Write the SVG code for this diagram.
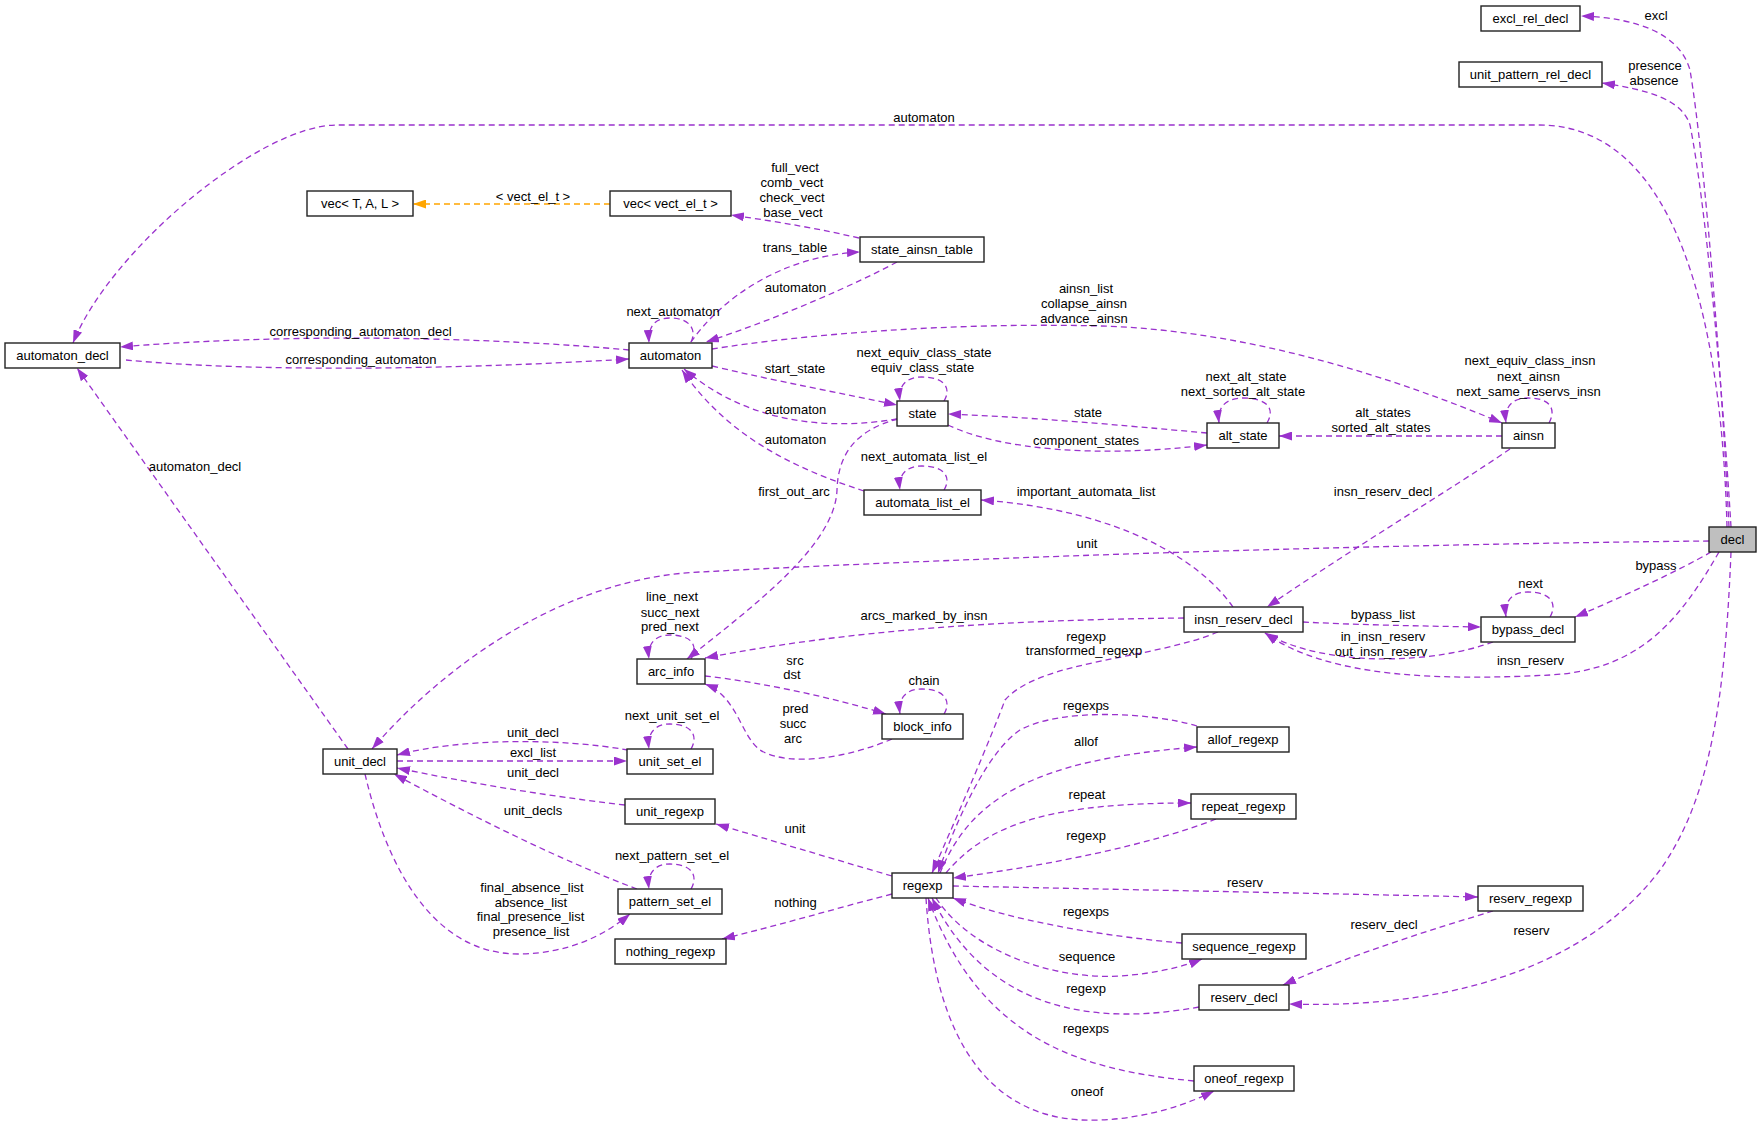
<svg xmlns="http://www.w3.org/2000/svg" width="1763" height="1127" viewBox="0 0 1763 1127">
<style>
.n rect{fill:#fff;stroke:#222;stroke-width:1.4}
.n text,.l text{font-family:"Liberation Sans",Arial,sans-serif;font-size:13px;fill:#000;text-anchor:middle}
.e path{fill:none;stroke:#9a32cd;stroke-width:1.3;stroke-dasharray:6,4;marker-end:url(#ap)}
.e path.o{stroke:#ffa500;marker-end:url(#ao)}
</style>
<defs>
<marker id="ap" viewBox="0 0 13 9" refX="13" refY="4.5" markerWidth="13" markerHeight="9" orient="auto" markerUnits="userSpaceOnUse"><path d="M0,0 L13,4.5 L0,9 z" fill="#9a32cd"/></marker>
<marker id="ao" viewBox="0 0 13 9" refX="13" refY="4.5" markerWidth="13" markerHeight="9" orient="auto" markerUnits="userSpaceOnUse"><path d="M0,0 L13,4.5 L0,9 z" fill="#ffa500"/></marker>
</defs>
<rect width="1763" height="1127" fill="#fff"/>
<g id="edges" class="e">
<path d="M1729,527 C1722,380 1705,160 1690,70 C1680,35 1640,18 1581,16"/>
<path d="M1731,527 C1722,380 1705,200 1690,125 C1682,100 1650,90 1602,83"/>
<path d="M1727,527 C1722,330 1680,125 1539,125 L337,125 C260,125 110,250 73,343"/>
<path class="o" d="M610,204 L413,204"/>
<path d="M859,238 C820,229 780,222 731,215"/>
<path d="M691,342 C720,300 780,256 860,252"/>
<path d="M897,262 C860,282 780,318 706,342"/>
<path d="M691,342 C697,330 690,318 670,318 C655,318 648,326 649,343"/>
<path d="M629,350 C500,338 300,332 120,347"/>
<path d="M126,360 C250,372 450,370 629,359"/>
<path d="M712,349 C800,335 950,322 1100,326 C1250,330 1400,380 1502,423"/>
<path d="M712,366 C780,382 840,393 897,405"/>
<path d="M897,419 C830,430 750,425 684,369"/>
<path d="M864,491 C800,470 730,440 682,370"/>
<path d="M944,401 C952,388 944,377 922,377 C906,377 898,386 900,401"/>
<path d="M898,419 C855,430 838,455 837,490 C835,545 755,605 687,659"/>
<path d="M1207,433 C1150,428 1050,418 948,414"/>
<path d="M948,425 C1000,450 1100,458 1207,445"/>
<path d="M1267,423 C1276,408 1266,398 1243,398 C1226,398 1217,407 1219,423"/>
<path d="M1502,436 L1279,436"/>
<path d="M1549,423 C1557,408 1549,398 1528,398 C1512,398 1504,407 1506,423"/>
<path d="M1510,449 C1450,490 1350,550 1267,607"/>
<path d="M1709,541 C1400,544 1000,556 700,572 C560,578 440,670 372,749"/>
<path d="M1233,607 C1200,560 1120,510 981,500"/>
<path d="M944,490 C952,477 944,466 922,466 C906,466 898,475 900,490"/>
<path d="M1184,618 C1000,620 850,630 705,658"/>
<path d="M691,659 C699,645 691,635 670,635 C655,635 647,644 649,659"/>
<path d="M705,676 C760,682 830,697 886,714"/>
<path d="M892,739 C850,757 790,768 760,750 C740,735 738,697 705,684"/>
<path d="M944,714 C952,701 944,689 922,689 C906,689 898,698 900,714"/>
<path d="M1303,622 C1360,625 1420,626 1481,627"/>
<path d="M1493,642 C1440,662 1330,670 1265,633"/>
<path d="M1719,552 C1680,620 1640,670 1550,675 C1450,680 1330,680 1265,633"/>
<path d="M1550,617 C1558,603 1550,592 1528,592 C1512,592 1504,601 1506,617"/>
<path d="M1711,552 C1680,570 1620,598 1575,617"/>
<path d="M1731,552 C1725,700 1710,800 1660,870 C1600,950 1480,1010 1289,1004"/>
<path d="M1493,911 C1430,930 1350,955 1283,985"/>
<path d="M953,886 C1100,889 1300,893 1478,897"/>
<path d="M1218,632 C1150,660 1040,660 1005,700 C990,740 960,810 932,873"/>
<path d="M1197,726 C1150,712 1060,708 1020,730 C990,750 960,810 938,873"/>
<path d="M940,873 C970,800 1030,760 1197,747"/>
<path d="M946,873 C990,820 1060,803 1191,803"/>
<path d="M1216,819 C1150,845 1050,865 953,878"/>
<path d="M1182,943 C1100,936 1010,920 953,898"/>
<path d="M936,898 C970,950 1050,980 1120,976 C1160,973 1185,966 1202,959"/>
<path d="M1199,1007 C1100,1025 990,1015 932,898"/>
<path d="M1194,1081 C1080,1070 980,1040 928,898"/>
<path d="M926,898 C935,1040 990,1125 1100,1120 C1150,1118 1190,1103 1214,1091"/>
<path d="M892,876 C830,858 770,840 716,824"/>
<path d="M892,894 C830,910 780,925 722,939"/>
<path d="M628,750 C560,738 460,738 397,755"/>
<path d="M397,761 L627,761"/>
<path d="M691,749 C699,735 691,724 670,724 C655,724 647,733 649,749"/>
<path d="M625,805 C540,795 470,783 397,768"/>
<path d="M637,889 C560,860 470,815 394,774"/>
<path d="M365,774 C385,860 430,955 520,954 C570,953 605,935 630,914"/>
<path d="M691,889 C699,875 691,864 670,864 C655,864 647,873 649,889"/>
<path d="M348,749 L77,368"/>
</g>
<g id="labels" class="l">
<text x="1656" y="19.5">excl</text>
<text x="1655" y="69.5">presence</text>
<text x="1654" y="84.5">absence</text>
<text x="924" y="121.5">automaton</text>
<text x="533" y="200.5">&lt; vect_el_t &gt;</text>
<text x="795" y="171.5">full_vect</text>
<text x="792" y="187">comb_vect</text>
<text x="792" y="201.5">check_vect</text>
<text x="793" y="216.5">base_vect</text>
<text x="795" y="251.5">trans_table</text>
<text x="795.5" y="291.5">automaton</text>
<text x="673" y="315.5">next_automaton</text>
<text x="1086" y="292.5">ainsn_list</text>
<text x="1084" y="308">collapse_ainsn</text>
<text x="1084" y="323">advance_ainsn</text>
<text x="360.5" y="335.5">corresponding_automaton_decl</text>
<text x="361" y="363.5">corresponding_automaton</text>
<text x="795" y="373">start_state</text>
<text x="924" y="357">next_equiv_class_state</text>
<text x="922.5" y="372">equiv_class_state</text>
<text x="795.5" y="413.5">automaton</text>
<text x="795.5" y="443.5">automaton</text>
<text x="1246" y="380.5">next_alt_state</text>
<text x="1243" y="395.5">next_sorted_alt_state</text>
<text x="1088" y="416.5">state</text>
<text x="1086" y="444.5">component_states</text>
<text x="1383" y="417">alt_states</text>
<text x="1381" y="432">sorted_alt_states</text>
<text x="1530" y="365">next_equiv_class_insn</text>
<text x="1528.5" y="380.5">next_ainsn</text>
<text x="1528.5" y="395.5">next_same_reservs_insn</text>
<text x="195" y="471">automaton_decl</text>
<text x="924" y="461">next_automata_list_el</text>
<text x="794" y="496">first_out_arc</text>
<text x="1086" y="496">important_automata_list</text>
<text x="1383" y="496">insn_reserv_decl</text>
<text x="1087" y="547.5">unit</text>
<text x="1656" y="569.5">bypass</text>
<text x="1530.5" y="588">next</text>
<text x="672" y="601">line_next</text>
<text x="670" y="616.5">succ_next</text>
<text x="670" y="631">pred_next</text>
<text x="924" y="619.5">arcs_marked_by_insn</text>
<text x="1383" y="618.5">bypass_list</text>
<text x="1383" y="641">in_insn_reserv</text>
<text x="1381" y="656">out_insn_reserv</text>
<text x="1530.5" y="665">insn_reserv</text>
<text x="1086" y="640.5">regexp</text>
<text x="1084" y="655">transformed_regexp</text>
<text x="795" y="664.5">src</text>
<text x="792" y="678.5">dst</text>
<text x="924" y="685">chain</text>
<text x="795.5" y="712.5">pred</text>
<text x="793" y="727.5">succ</text>
<text x="793" y="742.5">arc</text>
<text x="1086" y="709.5">regexps</text>
<text x="672" y="720">next_unit_set_el</text>
<text x="533" y="736.5">unit_decl</text>
<text x="533" y="757">excl_list</text>
<text x="1086" y="746">allof</text>
<text x="533" y="777">unit_decl</text>
<text x="1087" y="798.5">repeat</text>
<text x="533" y="815">unit_decls</text>
<text x="795" y="832.5">unit</text>
<text x="1086" y="839.5">regexp</text>
<text x="672" y="860">next_pattern_set_el</text>
<text x="532" y="891.5">final_absence_list</text>
<text x="531" y="906.5">absence_list</text>
<text x="530.5" y="921">final_presence_list</text>
<text x="531" y="936">presence_list</text>
<text x="1245" y="887">reserv</text>
<text x="795.5" y="907">nothing</text>
<text x="1086" y="915.5">regexps</text>
<text x="1384" y="928.5">reserv_decl</text>
<text x="1531.5" y="935">reserv</text>
<text x="1087" y="960.5">sequence</text>
<text x="1086" y="992.5">regexp</text>
<text x="1086" y="1032.5">regexps</text>
<text x="1087" y="1096">oneof</text>
</g>
<g id="n_excl_rel_decl" class="n"><rect x="1481" y="6" width="99" height="25"/><text x="1530.5" y="23">excl_rel_decl</text></g>
<g id="n_unit_pattern_rel_decl" class="n"><rect x="1459" y="62" width="143" height="25"/><text x="1530.5" y="79">unit_pattern_rel_decl</text></g>
<g id="n_vec_TAL" class="n"><rect x="307" y="191" width="106" height="25"/><text x="360" y="208">vec&lt; T, A, L &gt;</text></g>
<g id="n_vec_vect_el_t" class="n"><rect x="610" y="191" width="121" height="25"/><text x="670.5" y="208">vec&lt; vect_el_t &gt;</text></g>
<g id="n_state_ainsn_table" class="n"><rect x="860" y="237" width="124" height="25"/><text x="922" y="254">state_ainsn_table</text></g>
<g id="n_automaton_decl" class="n"><rect x="5" y="343" width="115" height="25"/><text x="62.5" y="360">automaton_decl</text></g>
<g id="n_automaton" class="n"><rect x="629" y="343" width="83" height="25"/><text x="670.5" y="360">automaton</text></g>
<g id="n_state" class="n"><rect x="897" y="401" width="51" height="25"/><text x="922.5" y="418">state</text></g>
<g id="n_automata_list_el" class="n"><rect x="864" y="490" width="117" height="25"/><text x="922.5" y="507">automata_list_el</text></g>
<g id="n_alt_state" class="n"><rect x="1207" y="423" width="72" height="25"/><text x="1243" y="440">alt_state</text></g>
<g id="n_ainsn" class="n"><rect x="1502" y="423" width="53" height="25"/><text x="1528.5" y="440">ainsn</text></g>
<g id="n_decl" class="n"><rect x="1709" y="527" width="47" height="25" style="fill:#bfbfbf"/><text x="1732.5" y="544">decl</text></g>
<g id="n_insn_reserv_decl" class="n"><rect x="1184" y="607" width="119" height="25"/><text x="1243.5" y="624">insn_reserv_decl</text></g>
<g id="n_bypass_decl" class="n"><rect x="1481" y="617" width="94" height="25"/><text x="1528" y="634">bypass_decl</text></g>
<g id="n_arc_info" class="n"><rect x="637" y="659" width="68" height="25"/><text x="671" y="676">arc_info</text></g>
<g id="n_block_info" class="n"><rect x="882" y="714" width="81" height="25"/><text x="922.5" y="731">block_info</text></g>
<g id="n_allof_regexp" class="n"><rect x="1197" y="727" width="92" height="25"/><text x="1243" y="744">allof_regexp</text></g>
<g id="n_unit_decl" class="n"><rect x="323" y="749" width="74" height="25"/><text x="360" y="766">unit_decl</text></g>
<g id="n_unit_set_el" class="n"><rect x="627" y="749" width="86" height="25"/><text x="670" y="766">unit_set_el</text></g>
<g id="n_unit_regexp" class="n"><rect x="625" y="799" width="90" height="25"/><text x="670" y="816">unit_regexp</text></g>
<g id="n_repeat_regexp" class="n"><rect x="1191" y="794" width="105" height="25"/><text x="1243.5" y="811">repeat_regexp</text></g>
<g id="n_regexp" class="n"><rect x="892" y="873" width="61" height="25"/><text x="922.5" y="890">regexp</text></g>
<g id="n_pattern_set_el" class="n"><rect x="618" y="889" width="104" height="25"/><text x="670" y="906">pattern_set_el</text></g>
<g id="n_reserv_regexp" class="n"><rect x="1478" y="886" width="105" height="25"/><text x="1530.5" y="903">reserv_regexp</text></g>
<g id="n_nothing_regexp" class="n"><rect x="615" y="939" width="111" height="25"/><text x="670.5" y="956">nothing_regexp</text></g>
<g id="n_sequence_regexp" class="n"><rect x="1182" y="934" width="124" height="25"/><text x="1244" y="951">sequence_regexp</text></g>
<g id="n_reserv_decl" class="n"><rect x="1199" y="985" width="90" height="25"/><text x="1244" y="1002">reserv_decl</text></g>
<g id="n_oneof_regexp" class="n"><rect x="1194" y="1066" width="100" height="25"/><text x="1244" y="1083">oneof_regexp</text></g>
</svg>
